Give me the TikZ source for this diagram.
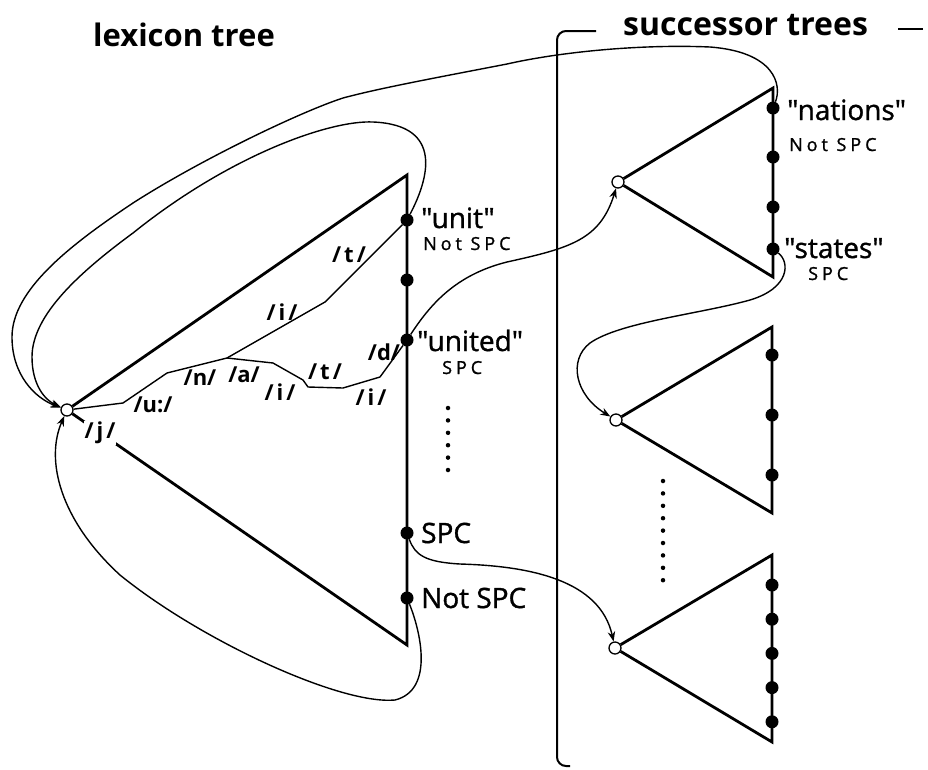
\documentclass[tikz,border=0pt]{standalone}
\usepackage{fontspec}
\setmainfont{Open Sans}
\newfontfamily\medfont[FakeBold=1.2]{Open Sans}
\newcommand\dq{\symbol{34}}
\usetikzlibrary{arrows.meta}
\begin{document}
\begin{tikzpicture}[x=1pt, y=-1pt,
  tri/.style={line width=2.8pt, line join=miter},
  edge/.style={line width=1.4pt, line join=round},
  conn/.style={line width=1.4pt, -{Stealth[length=10pt,width=7.5pt]}},
  brk/.style={line width=2pt, rounded corners=9pt},
  leaf/.style={circle, fill=black, minimum size=13pt, inner sep=0pt},
  rootnode/.style={circle, draw, fill=white, line width=1.3pt, minimum size=12pt, inner sep=0pt},
  title/.style={font=\bfseries\fontsize{31}{34}\selectfont, anchor=base west, inner sep=0pt},
  word/.style={font=\medfont\fontsize{28}{30}\selectfont, anchor=base west, inner sep=0pt},
  tag/.style={font=\medfont\fontsize{18}{20}\selectfont\addfontfeature{LetterSpace=22}, anchor=base west, inner sep=0pt},
  ph/.style={font=\bfseries\fontsize{22}{24}\selectfont, inner sep=1pt},
  ell/.style={circle, fill=black, minimum size=4.5pt, inner sep=0pt}
]
\useasboundingbox (0,0) rectangle (928,769);

% ---------- titles ----------
\node[title] (ttlex) at (93,46) {lexicon tree};
\node[title, font=\bfseries\fontsize{32}{34}\selectfont] (ttsuc) at (623,35) {successor trees};

% ---------- bracket around the successor trees ----------
\coordinate (bkA) at (596,31);
\coordinate (bkB) at (557,31);
\coordinate (bkC) at (557,766);
\coordinate (bkD) at (570,766);
\coordinate (bkE) at (898,29);
\coordinate (bkF) at (923,29);
\draw[brk] (bkA) -- (bkB) -- (bkC) -- (bkD);
\draw[line width=2pt] (bkE) -- (bkF);

% ---------- lexicon tree ----------
\node[rootnode] (r0) at (67,410) {};
\coordinate (lt) at (407,175);
\coordinate (lb) at (407,645);
\node[leaf] (unit)   at (407,220) {};
\node[leaf] (lmid)   at (407,280) {};
\node[leaf] (united) at (407,340) {};
\node[leaf] (spc)    at (407,533) {};
\node[leaf] (nspc)   at (407,598) {};
\draw[tri] (r0) -- (lt) -- (lb) -- (r0);

% phoneme paths
\coordinate (p1) at (123,403);
\coordinate (p2) at (167,373);
\coordinate (p3) at (227,358);
\coordinate (p4) at (273,363);
\coordinate (p5) at (303,380);
\coordinate (p6) at (308,387);
\coordinate (p7) at (343,388);
\coordinate (p8) at (380,377);
\coordinate (q1) at (325,302);
\draw[edge] (r0) -- (p1) -- (p2) -- (p3) -- (p4) -- (p5) -- (p6) -- (p7) -- (p8) -- (united);
\draw[edge] (p3) -- (q1) -- (unit);

\node[ph, fill=white] (phj) at (100,433) {/\kern3pt j\kern3pt/};
\node[ph] (phu)  at (153,405) {/u:/};
\node[ph] (phn)  at (200,378) {/n/};
\node[ph] (pha)  at (244,375) {/a/};
\node[ph] (phi1) at (280,392) {/\kern3pt i\kern3pt/};
\node[ph] (pht1) at (325,372) {/\kern3pt t\kern3pt/};
\node[ph] (phi2) at (371,397) {/\kern3pt i\kern3pt/};
\node[ph] (phd)  at (384,352) {/d/};
\node[ph] (phi3) at (282,312) {/\kern3pt i\kern3pt/};
\node[ph] (pht2) at (349,255) {/\kern3pt t\kern3pt/};

% leaf labels
\node[word] (wunit) at (421,228) {\dq unit\dq};
\node[tag]  (tunit) at (423,250) {Not SPC};
\node[word] (wunited) at (417,351) {\dq united\dq};
\node[tag]  (tunited) at (442,374) {SPC};
\node[word] (wspc) at (421,543) {SPC};
\node[word] (wnspc) at (421,608) {Not SPC};
\foreach \k in {0,...,5} \node[ell] (ldot\k) at (448,408+12.4*\k) {};

% ---------- successor tree 1 ----------
\node[rootnode] (s1) at (618,182) {};
\coordinate (s1t) at (773,88);
\coordinate (s1b) at (773,277);
\node[leaf] (nations) at (773,108) {};
\node[leaf] (s1m1)    at (773,157) {};
\node[leaf] (s1m2)    at (773,207) {};
\node[leaf] (states)  at (773,249) {};
\draw[tri] (s1) -- (s1t) -- (s1b) -- (s1);
\node[word] (wnations) at (787,120) {\dq nations\dq};
\node[tag]  (tnations) at (789,151) {Not SPC};
\node[word] (wstates)  at (784,258) {\dq states\dq};
\node[tag]  (tstates)  at (808,280) {SPC};

% ---------- successor tree 2 ----------
\node[rootnode] (s2) at (616,420) {};
\coordinate (s2t) at (772,327);
\coordinate (s2b) at (772,513);
\node[leaf] (s2a) at (772,355) {};
\node[leaf] (s2b1) at (772,415) {};
\node[leaf] (s2c) at (772,475) {};
\draw[tri] (s2) -- (s2t) -- (s2b) -- (s2);

\foreach \k in {0,...,8} \node[ell] (sdot\k) at (663,481+12.4*\k) {};

% ---------- successor tree 3 ----------
\node[rootnode] (s3) at (615,648) {};
\coordinate (s3t) at (772,555);
\coordinate (s3b) at (772,742);
\foreach \k in {0,...,4} \node[leaf] (s3d\k) at (772,585+34.2*\k) {};
\draw[tri] (s3) -- (s3t) -- (s3b) -- (s3);

% ---------- connectors ----------
% "unit" back to the lexicon root
\draw[conn] (unit) .. controls (428,180) and (445,125) .. (373,122)
  .. controls (330,120) and (230,155) .. (133,233)
  .. controls (80,272) and (32,315) .. (32,357)
  .. controls (32,385) and (45,400) .. (r0);
% "nations" back to the lexicon root
\draw[conn] (nations) .. controls (782,85) and (775,52) .. (710,47)
  .. controls (640,44) and (560,52) .. (507,64)
  .. controls (440,77) and (380,88) .. (343,98)
  .. controls (300,112) and (200,160) .. (133,203)
  .. controls (70,245) and (12,290) .. (12,337)
  .. controls (12,375) and (35,398) .. (r0);
% "united" into successor tree 1
\draw[conn] (united) .. controls (430,305) and (455,275) .. (507,262)
  .. controls (570,248) and (600,240) .. (s1);
% "states" into successor tree 2
\draw[conn] (states) .. controls (790,262) and (790,288) .. (750,300)
  .. controls (700,314) and (620,322) .. (590,343)
  .. controls (568,360) and (575,395) .. (s2);
% SPC into successor tree 3
\draw[conn] (spc) .. controls (415,555) and (425,562) .. (460,564)
  .. controls (530,566) and (600,580) .. (s3);
% Not SPC back to the lexicon root
\draw[conn] (nspc) .. controls (420,630) and (435,690) .. (395,700)
  .. controls (340,705) and (200,640) .. (120,575)
  .. controls (60,520) and (45,460) .. (r0);
\end{tikzpicture}
\end{document}
